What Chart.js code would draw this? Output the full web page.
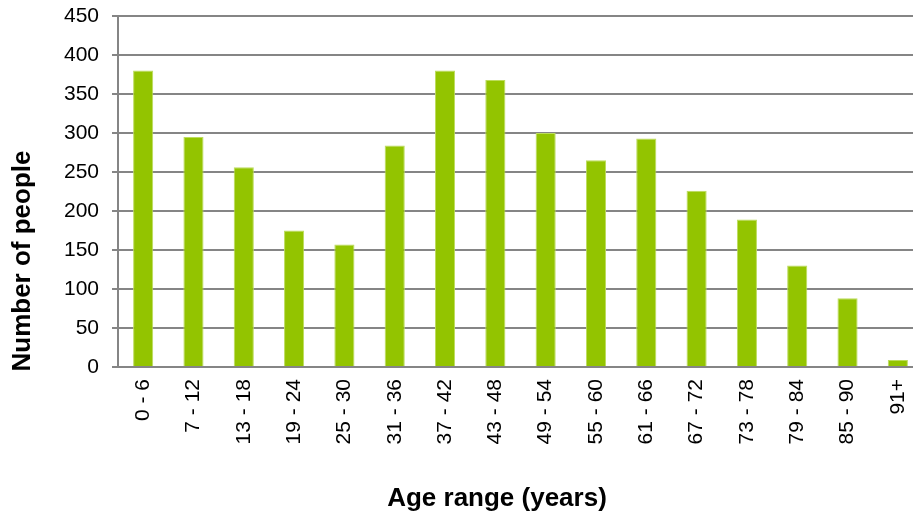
<!DOCTYPE html>
<html>
  <head>
    <meta charset="UTF-8" />
    <title>Number of people by age range</title>
    <script src="https://cdn.jsdelivr.net/npm/chart.js"></script>
    <style>
      html,
      body {
        margin: 0;
        padding: 0;
        background: #fff;
        overflow: hidden;
      }
      #wrap {
        position: absolute;
        left: 0;
        top: 0;
        width: 923px;
        height: 517px;
      }
    </style>
  </head>
  <body>
    <div id="wrap">
      <canvas id="ageChart" width="923" height="517"></canvas>
    </div>

    <script>
      const ageRanges = [
        "0 - 6", "7 - 12", "13 - 18", "19 - 24", "25 - 30", "31 - 36",
        "37 - 42", "43 - 48", "49 - 54", "55 - 60", "61 - 66", "67 - 72",
        "73 - 78", "79 - 84", "85 - 90", "91+",
      ];
      const peopleCounts = [
        380, 295, 256, 175, 157, 284, 380, 368, 300, 265, 293, 226, 189, 130,
        88, 9,
      ];
      const yTicks = [0, 50, 100, 150, 200, 250, 300, 350, 400, 450];

      const yTitle = "Number of people";
      const xTitle = "Age range (years)";
      const gridGrey = "#858585";
      const fontFamily = "'Liberation Sans', Arial, sans-serif";

      // axis titles sit off-centre in the original, so draw them by hand
      const axisTitles = {
        id: "axisTitles",
        afterDraw(chart) {
          const ctx = chart.ctx;
          ctx.save();
          ctx.fillStyle = "#000";
          ctx.font = "bold 26px " + fontFamily;
          ctx.textAlign = "center";
          ctx.textBaseline = "middle";
          ctx.fillText(xTitle, 497, 499);
          ctx.translate(23, 261);
          ctx.rotate(-Math.PI / 2);
          ctx.fillText(yTitle, 0, 0);
          ctx.restore();
        },
      };

      new Chart(document.getElementById("ageChart"), {
        type: "bar",
        data: {
          labels: ageRanges,
          datasets: [
            {
              label: yTitle,
              data: peopleCounts,
              backgroundColor: "#93c400",
              borderColor: "#bcdc5c",
              borderWidth: 1,
              barPercentage: 0.4,
              categoryPercentage: 1,
            },
          ],
        },
        options: {
          responsive: false,
          animation: false,
          layout: { padding: { top: 16, left: 0, right: 0, bottom: 0 } },
          plugins: {
            legend: { display: false },
            tooltip: { enabled: false },
          },
          scales: {
            x: {
              grid: { display: false, drawTicks: false },
              border: { display: true, color: gridGrey, width: 2 },
              ticks: {
                color: "#000",
                font: { family: fontFamily, size: 21 },
                minRotation: 90,
                maxRotation: 90,
                padding: 12,
                autoSkip: false,
              },
              afterFit(scale) {
                scale.height = 150;
                scale.paddingLeft = 0;
                scale.paddingRight = 0;
              },
            },
            y: {
              min: 0,
              max: 450,
              afterBuildTicks(scale) {
                scale.ticks = yTicks.map((v) => ({ value: v }));
              },
              grid: {
                color: gridGrey,
                lineWidth: 2,
                tickLength: 6,
              },
              border: { display: true, color: gridGrey, width: 2 },
              ticks: {
                color: "#000",
                font: { family: fontFamily, size: 21 },
                padding: 13,
              },
              afterFit(scale) {
                scale.width = 118;
                scale.paddingTop = 0;
                scale.paddingBottom = 0;
              },
            },
          },
        },
        plugins: [axisTitles],
      });
    </script>
  </body>
</html>
